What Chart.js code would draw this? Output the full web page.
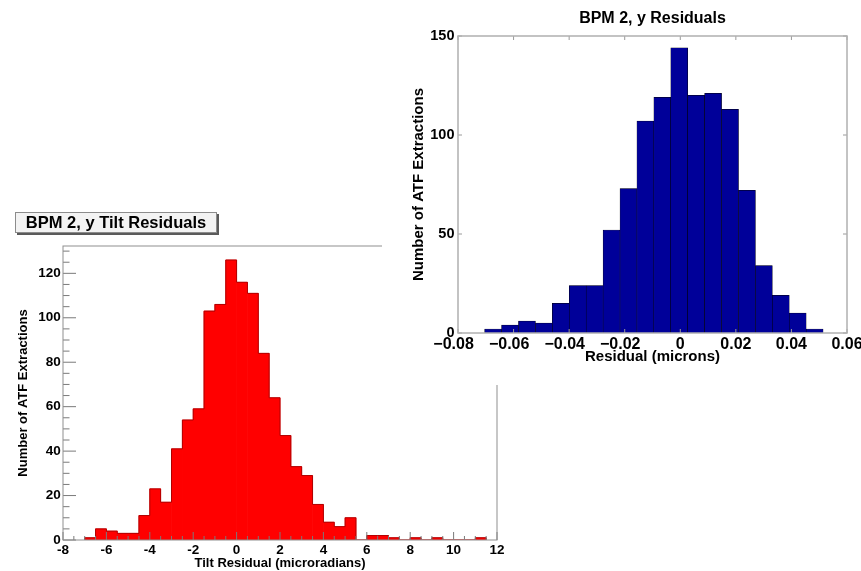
<!DOCTYPE html>
<html>
<head>
<meta charset="utf-8">
<script src="https://cdn.jsdelivr.net/npm/chart.js@4.4.1/dist/chart.umd.min.js"></script>
<style>
  html, body { margin: 0; padding: 0; background: #fff; }
  #wrap { position: relative; width: 861px; height: 571px; overflow: hidden; background: #fff; }
  #tilt { position: absolute; left: 0; top: 0; }
  #resid { position: absolute; left: 382px; top: 0; background: #fff; }
  #tiltTitle {
    position: absolute; left: 15px; top: 212px; width: 200px; height: 19px;
    border: 1px solid #8c8c8c; background: #f3f3f3; box-shadow: 2px 2px 0 #5a5a5a;
    font: bold 16.5px "Liberation Sans", Arial, Helvetica, sans-serif;
    text-align: center; line-height: 19px; color: #000; white-space: nowrap;
  }
</style>
</head>
<body>
<div id="wrap">
  <canvas id="tilt" width="861" height="571"></canvas>
  <div id="tiltTitle">BPM 2, y Tilt Residuals</div>
  <canvas id="resid" width="479" height="385"></canvas>
</div>
<script>
// ---- Tilt residual histogram (0.5 microradian bins) ----
const tiltBinCentres = [-6.75, -6.25, -5.75, -5.25, -4.75, -4.25, -3.75, -3.25, -2.75, -2.25,
  -1.75, -1.25, -0.75, -0.25, 0.25, 0.75, 1.25, 1.75, 2.25, 2.75,
  3.25, 3.75, 4.25, 4.75, 5.25, 5.75, 6.25, 6.75, 7.25, 7.75,
  8.25, 8.75, 9.25, 9.75, 10.25, 10.75, 11.25];
const tiltCounts = [1, 5, 4, 3, 3, 11, 23, 17, 41, 54,
  59, 103, 106, 126, 116, 111, 84, 64, 47, 33,
  29, 16, 8, 6, 10, 0, 2, 2, 1, 0,
  1, 0, 1, 0, 0, 0, 1];
const tiltBinWidth = 0.5;
const tiltXTickValues = [-8, -6, -4, -2, 0, 2, 4, 6, 8, 10, 12];
const tiltXTickLabels = ['-8', '-6', '-4', '-2', '0', '2', '4', '6', '8', '10', '12'];
const tiltYTickValues = [0, 20, 40, 60, 80, 100, 120];
const tiltYTickLabels = ['0', '20', '40', '60', '80', '100', '120'];

// ---- Position residual histogram ----
const residBinCentres = [-0.06736, -0.06127, -0.05518, -0.04909, -0.04300, -0.03691, -0.03082,
  -0.02473, -0.01864, -0.01255, -0.00646, -0.00037, 0.00572, 0.01181, 0.01790,
  0.02399, 0.03008, 0.03617, 0.04226, 0.04835];
const residCounts = [2, 4, 6, 5, 15, 24, 24, 52, 73, 107, 119, 144, 120, 121, 113, 72, 34, 19, 10, 2];
const residXTickValues = [-0.08, -0.06, -0.04, -0.02, 0, 0.02, 0.04, 0.06];
const residXTickLabels = ['\u22120.08', '\u22120.06', '\u22120.04', '\u22120.02', '0', '0.02', '0.04', '0.06'];
const residYTickValues = [0, 50, 100, 150];
const residYTickLabels = ['0', '50', '100', '150'];

Chart.defaults.font.family = '"Liberation Sans", Arial, Helvetica, sans-serif';
Chart.defaults.color = '#000';

const boldFont = size => ({ size: size, weight: 'bold' });

// Draws a box round the plot area plus inward-pointing tick marks.
function frameAndTicks(cfg) {
  return {
    id: 'frameAndTicks',
    afterDatasetsDraw(chart) {
      const { ctx, chartArea: a, scales } = chart;
      ctx.save();
      ctx.strokeStyle = cfg.tickColor;
      ctx.lineWidth = cfg.tickWidth;
      ctx.beginPath();
      scales.x.ticks.forEach(t => {
        const px = scales.x.getPixelForValue(t.value);
        const len = cfg.xLen(t.value);
        ctx.moveTo(px, a.bottom); ctx.lineTo(px, a.bottom - len);
        if (cfg.mirror) { ctx.moveTo(px, a.top); ctx.lineTo(px, a.top + len); }
      });
      scales.y.ticks.forEach(t => {
        const py = scales.y.getPixelForValue(t.value);
        const len = cfg.yLen(t.value);
        ctx.moveTo(a.left, py); ctx.lineTo(a.left + len, py);
        if (cfg.mirror) { ctx.moveTo(a.right, py); ctx.lineTo(a.right - len, py); }
      });
      ctx.stroke();
      ctx.strokeStyle = cfg.frameColor;
      ctx.lineWidth = cfg.frameWidth;
      ctx.strokeRect(a.left, a.top, a.right - a.left, a.bottom - a.top);
      ctx.restore();
    }
  };
}

// Step outline running along the tops of the tilt bins.
const tiltOutline = [{ x: tiltBinCentres[0] - tiltBinWidth / 2, y: 0 }];
tiltBinCentres.forEach((c, i) => tiltOutline.push({ x: c - tiltBinWidth / 2, y: tiltCounts[i] }));
const lastTilt = tiltBinCentres.length - 1;
tiltOutline.push({ x: tiltBinCentres[lastTilt] + tiltBinWidth / 2, y: tiltCounts[lastTilt] });
tiltOutline.push({ x: tiltBinCentres[lastTilt] + tiltBinWidth / 2, y: 0 });

new Chart(document.getElementById('tilt'), {
  type: 'bar',
  data: {
    datasets: [
      {
        type: 'line', data: tiltOutline, stepped: 'before', borderColor: '#b00000',
        borderWidth: 1, pointRadius: 0, fill: false, order: 0
      },
      {
        data: tiltBinCentres.map((x, i) => ({ x: x, y: tiltCounts[i] })),
        backgroundColor: '#ff0000', borderWidth: 0,
        barPercentage: 1, categoryPercentage: 1, order: 1
      }
    ]
  },
  options: {
    responsive: false, animation: false, devicePixelRatio: 1,
    layout: { padding: { top: 246, left: 0, right: 364, bottom: 0 } },
    plugins: { legend: { display: false }, tooltip: { enabled: false } },
    scales: {
      x: {
        type: 'linear', min: -8, max: 12, offset: false,
        grid: { display: false, drawTicks: false }, border: { display: false },
        ticks: {
          stepSize: 0.5, maxTicksLimit: 100, autoSkip: false, maxRotation: 0, minRotation: 0,
          padding: 2, color: '#000', font: boldFont(13.5),
          callback: v => { const k = tiltXTickValues.indexOf(v); return k >= 0 ? tiltXTickLabels[k] : ''; }
        },
        title: {
          display: true, text: 'Tilt Residual (microradians)', color: '#000',
          font: boldFont(13), padding: { top: 0, bottom: 0.2 }
        },
        afterFit: s => { s.height = 31; s.paddingLeft = 0; s.paddingRight = 0; }
      },
      y: {
        type: 'linear', min: 0, max: 132.3,
        grid: { display: false, drawTicks: false }, border: { display: false },
        ticks: {
          stepSize: 5, maxTicksLimit: 100, includeBounds: false, autoSkip: false,
          padding: 2.3, color: '#000', font: boldFont(13.5),
          callback: v => { const k = tiltYTickValues.indexOf(v); return k >= 0 ? tiltYTickLabels[k] : ''; }
        },
        title: {
          display: true, text: 'Number of ATF Extractions', color: '#000',
          font: boldFont(13), padding: { top: 15.2, bottom: 0 }
        },
        afterFit: s => { s.width = 63; s.paddingTop = 0; s.paddingBottom = 0; }
      }
    }
  },
  plugins: [frameAndTicks({
    tickColor: '#7a7a7a', tickWidth: 1, frameColor: '#8f8f8f', frameWidth: 1, mirror: false,
    xLen: v => (tiltXTickValues.includes(v) ? 8 : 4),
    yLen: v => (tiltYTickValues.includes(v) ? 13 : 6.5)
  })]
});

new Chart(document.getElementById('resid'), {
  type: 'bar',
  data: {
    datasets: [{
      data: residBinCentres.map((x, i) => ({ x: x, y: residCounts[i] })),
      backgroundColor: '#000099', borderColor: '#000000', borderWidth: 0.5,
      barPercentage: 1, categoryPercentage: 1
    }]
  },
  options: {
    responsive: false, animation: false, devicePixelRatio: 1,
    layout: { padding: { top: 0, left: 0, right: 14, bottom: 0 } },
    plugins: {
      legend: { display: false }, tooltip: { enabled: false },
      title: {
        display: true, text: 'BPM 2, y Residuals', fullSize: false, color: '#000',
        font: boldFont(16), padding: { top: 9.4, bottom: 7.4 }
      }
    },
    scales: {
      x: {
        type: 'linear', min: -0.08, max: 0.06, offset: false,
        grid: { display: false, drawTicks: false }, border: { display: false },
        afterBuildTicks: s => { s.ticks = residXTickValues.map(v => ({ value: v })); },
        ticks: {
          autoSkip: false, maxRotation: 0, minRotation: 0, padding: 2.4,
          color: '#000', font: boldFont(16),
          // the number itself sits centred on its tick; the minus sign hangs to the left
          callback: (v, i) => (residXTickValues[i] < 0 ? residXTickLabels[i] + '\u00a0\u00a0' : residXTickLabels[i])
        },
        title: {
          display: true, text: 'Residual (microns)', color: '#000',
          font: boldFont(15), padding: { top: 0, bottom: 19 }
        },
        afterFit: s => { s.height = 52; s.paddingLeft = 0; s.paddingRight = 0; }
      },
      y: {
        type: 'linear', min: 0, max: 150,
        grid: { display: false, drawTicks: false }, border: { display: false },
        afterBuildTicks: s => { s.ticks = residYTickValues.map(v => ({ value: v })); },
        ticks: {
          autoSkip: false, padding: 3.5, color: '#000', font: boldFont(14.5),
          callback: (v, i) => residYTickLabels[i]
        },
        title: {
          display: true, text: 'Number of ATF Extractions', color: '#000',
          font: boldFont(15), padding: { top: 27.7, bottom: 0 }
        },
        afterFit: s => { s.width = 76; s.paddingTop = 0; s.paddingBottom = 0; }
      }
    }
  },
  plugins: [frameAndTicks({
    tickColor: '#9a9a9a', tickWidth: 1, frameColor: '#b0b0b0', frameWidth: 1.5, mirror: true,
    xLen: () => 4, yLen: () => 4
  })]
});
</script>
</body>
</html>
